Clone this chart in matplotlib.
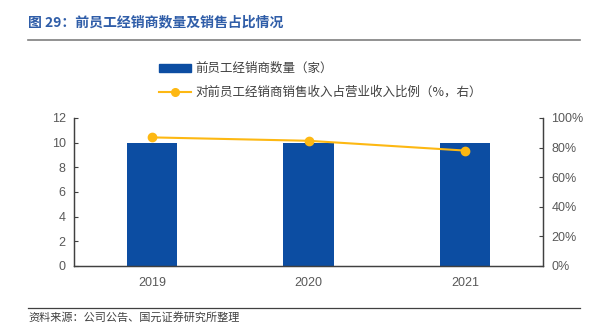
import matplotlib
matplotlib.use("Agg")
import matplotlib.pyplot as plt
from matplotlib.ticker import FuncFormatter
from matplotlib.lines import Line2D

plt.rcParams['font.family'] = ['Liberation Sans', 'Noto Sans CJK SC', 'DejaVu Sans']

years = ['2019', '2020', '2021']
dealers = [10, 10, 10]
ratio = [86.9, 84.6, 78.0]

title = '图 29：前员工经销商数量及销售占比情况'
bar_label = '前员工经销商数量（家）'
line_label = '对前员工经销商销售收入占营业收入比例（%，右）'
source = '资料来源：公司公告、国元证券研究所整理'

BLUE = '#0C4DA2'
GOLD = '#FDB813'
GRAY = '#595959'
CJK = ['Noto Sans CJK SC', 'DejaVu Sans']

fig = plt.figure(figsize=(6.04, 3.30), dpi=100)
ax = fig.add_axes([74/604, 1-266/330, (543-74)/604, (266-118)/330])
x = list(range(len(years)))
ax.bar(x, dealers, width=0.32, color=BLUE, zorder=2)
ax.set_xlim(-0.5, len(years)-0.5)
ax.set_ylim(0, 12)
ax.set_yticks(range(0, 13, 2))
ax.set_xticks(x)
ax.set_xticklabels(years)
ax.tick_params(axis='x', length=0, pad=8, colors=GRAY, labelsize=9)
ax.tick_params(axis='y', direction='in', length=3, colors='#404040', labelcolor=GRAY, labelsize=9, pad=6)
ax.spines['top'].set_visible(False)
for s in ['left', 'bottom', 'right']:
    ax.spines[s].set_color('#404040')
    ax.spines[s].set_linewidth(0.9)

ax2 = ax.twinx()
ax2.plot(x, ratio, color=GOLD, lw=1.5, marker='o', ms=6, zorder=3)
ax2.set_ylim(0, 100)
ax2.set_yticks(range(0, 101, 20))
ax2.yaxis.set_major_formatter(FuncFormatter(lambda v, p: f'{int(v)}%'))
ax2.tick_params(axis='y', direction='in', length=3, colors='#404040', labelcolor=GRAY, labelsize=9, pad=6)
ax2.spines['top'].set_visible(False)
for s in ['left', 'bottom', 'right']:
    ax2.spines[s].set_color('#404040')
    ax2.spines[s].set_linewidth(0.9)

# Legend
handles = [plt.Rectangle((0, 0), 1, 1, color=BLUE),
           Line2D([0], [0], color=GOLD, lw=1.5, marker='o', ms=5.5)]
leg = fig.legend(handles, [bar_label, line_label], loc='upper left',
                 bbox_to_anchor=(148/604, 1-51/330), frameon=False,
                 prop={'family': CJK, 'size': 9}, handlelength=2.5,
                 handleheight=0.6, handletextpad=0.4, labelspacing=0.85)
for t in leg.get_texts():
    t.set_color('#404040')

# Title
fig.text(28/604, 1-22/330, title, fontsize=10, fontweight='bold', color='#2F5DA8',
         family=CJK, va='center', ha='left')
fig.add_artist(Line2D([28/604, 580/604], [1-40/330, 1-40/330], color='#7F7F7F', lw=1.2))

# Source
fig.add_artist(Line2D([28/604, 580/604], [1-308/330, 1-308/330], color='#404040', lw=0.9))
fig.text(28/604, 1-317/330, source, fontsize=8, color='#404040', family=CJK,
         va='center', ha='left')

fig.savefig('out.png', dpi=100)
